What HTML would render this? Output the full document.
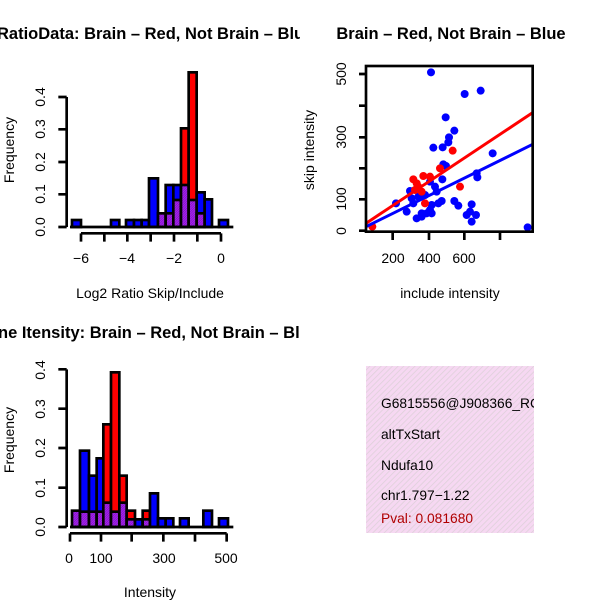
<!DOCTYPE html>
<html><head><meta charset="utf-8"><style>
html,body{margin:0;padding:0;background:#fff;}
svg{display:block;font-family:"Liberation Sans",sans-serif;}
</style></head><body>
<svg width="600" height="600" viewBox="0 0 600 600" xmlns="http://www.w3.org/2000/svg">
<defs>
<clipPath id="c1"><rect x="0" y="0" width="300" height="300"/></clipPath>
<clipPath id="c3"><rect x="0" y="300" width="300" height="300"/></clipPath>
<clipPath id="c4"><rect x="366" y="366" width="168" height="168"/></clipPath>
<pattern id="hatch" width="5" height="5" patternUnits="userSpaceOnUse" patternTransform="rotate(45)">
<rect width="5" height="5" fill="#a020f0"/><line x1="0" y1="0" x2="0" y2="5" stroke="#70108a" stroke-width="2"/>
</pattern>
<pattern id="pink" width="4" height="4" patternUnits="userSpaceOnUse" patternTransform="rotate(45)">
<rect width="4" height="4" fill="#f6d8f2"/><line x1="0" y1="0" x2="0" y2="4" stroke="#ddd0d8" stroke-width="1.5"/>
</pattern>
</defs>

<!-- Titles -->
<g font-weight="bold" font-size="16.5">
<text x="-3" y="39" clip-path="url(#c1)">RatioData: Brain – Red, Not Brain – Blue</text>
<text x="451" y="39" text-anchor="middle">Brain – Red, Not Brain – Blue</text>
<text x="-24" y="338" clip-path="url(#c3)">Gene Itensity: Brain – Red, Not Brain – Blue</text>
</g>

<!-- Plot 1 -->
<g transform="translate(0,60) scale(0.33333)" stroke="#000" stroke-width="8">
<rect x="216" y="480" width="27" height="21" fill="#0000ff"/>
<rect x="333" y="480" width="25" height="21" fill="#0000ff"/>
<rect x="378" y="480" width="24" height="21" fill="#0000ff"/>
<rect x="402" y="480" width="23" height="21" fill="#0000ff"/>
<rect x="425" y="480" width="22" height="21" fill="#0000ff"/>
<rect x="447" y="355" width="27" height="146" fill="#0000ff"/>
<rect x="474" y="460" width="23" height="41" fill="url(#hatch)"/>
<rect x="497" y="375" width="23" height="126" fill="#0000ff"/>
<rect x="497" y="460" width="23" height="41" fill="url(#hatch)"/>
<rect x="520" y="375" width="23" height="126" fill="#0000ff"/>
<rect x="520" y="420" width="23" height="81" fill="url(#hatch)"/>
<rect x="543" y="205" width="23" height="296" fill="#ff0000"/>
<rect x="543" y="375" width="23" height="126" fill="url(#hatch)"/>
<rect x="566" y="37" width="24" height="464" fill="#ff0000"/>
<rect x="566" y="420" width="24" height="81" fill="url(#hatch)"/>
<rect x="590" y="397" width="24" height="104" fill="#0000ff"/>
<rect x="590" y="460" width="24" height="41" fill="url(#hatch)"/>
<rect x="614" y="418" width="22" height="83" fill="#0000ff"/>
<rect x="657" y="480" width="27" height="21" fill="#0000ff"/>
<line x1="210" y1="501" x2="700" y2="501"/>
<path d="M200 111 V501 M200 111 H175 M200 208 H175 M200 306 H175 M200 403 H175 M200 501 H175" fill="none"/>
<path d="M243 520 H663 M243 520 V545 M313 520 V545 M382 520 V545 M452 520 V545 M522 520 V545 M592 520 V545 M663 520 V545" fill="none"/>
</g>
<g font-size="14" text-anchor="middle">
<text transform="translate(45,227) rotate(-90)">0.0</text>
<text transform="translate(45,194) rotate(-90)">0.1</text>
<text transform="translate(45,162) rotate(-90)">0.2</text>
<text transform="translate(45,129) rotate(-90)">0.3</text>
<text transform="translate(45,97) rotate(-90)">0.4</text>
<text x="81" y="263">−6</text>
<text x="127" y="263">−4</text>
<text x="174" y="263">−2</text>
<text x="221" y="263">0</text>
<text x="150" y="298">Log2 Ratio Skip/Include</text>
<text transform="translate(14,150) rotate(-90)">Frequency</text>
</g>

<!-- Plot 3 -->
<g transform="translate(0,360) scale(0.33333)" stroke="#000" stroke-width="8">
<rect x="216" y="452" width="24" height="49" fill="url(#hatch)"/>
<rect x="240" y="272" width="27" height="229" fill="#0000ff"/>
<rect x="240" y="455" width="27" height="46" fill="url(#hatch)"/>
<rect x="267" y="347" width="23" height="154" fill="#0000ff"/>
<rect x="267" y="455" width="23" height="46" fill="url(#hatch)"/>
<rect x="290" y="295" width="20" height="206" fill="#0000ff"/>
<rect x="290" y="455" width="20" height="46" fill="url(#hatch)"/>
<rect x="310" y="193" width="23" height="308" fill="#ff0000"/>
<rect x="310" y="428" width="23" height="73" fill="url(#hatch)"/>
<rect x="333" y="37" width="25" height="464" fill="#ff0000"/>
<rect x="333" y="455" width="25" height="46" fill="url(#hatch)"/>
<rect x="358" y="347" width="22" height="154" fill="#ff0000"/>
<rect x="358" y="428" width="22" height="73" fill="url(#hatch)"/>
<rect x="380" y="452" width="25" height="49" fill="#ff0000"/>
<rect x="380" y="478" width="25" height="23" fill="url(#hatch)"/>
<rect x="405" y="478" width="23" height="23" fill="#0000ff"/>
<rect x="428" y="452" width="22" height="49" fill="#ff0000"/>
<rect x="428" y="478" width="22" height="23" fill="url(#hatch)"/>
<rect x="450" y="400" width="24" height="101" fill="#0000ff"/>
<rect x="474" y="475" width="23" height="26" fill="#0000ff"/>
<rect x="497" y="475" width="23" height="26" fill="#0000ff"/>
<rect x="540" y="475" width="26" height="26" fill="#0000ff"/>
<rect x="610" y="452" width="26" height="49" fill="#0000ff"/>
<rect x="657" y="475" width="27" height="26" fill="#0000ff"/>
<line x1="210" y1="501" x2="700" y2="501"/>
<path d="M200 28 V501 M200 28 H175 M200 146 H175 M200 264 H175 M200 383 H175 M200 501 H175" fill="none"/>
<path d="M210 520 H680 M210 520 V545 M303 520 V545 M395 520 V545 M490 520 V545 M585 520 V545 M680 520 V545" fill="none"/>
</g>
<g font-size="14" text-anchor="middle">
<text transform="translate(45,527) rotate(-90)">0.0</text>
<text transform="translate(45,488) rotate(-90)">0.1</text>
<text transform="translate(45,448) rotate(-90)">0.2</text>
<text transform="translate(45,409) rotate(-90)">0.3</text>
<text transform="translate(45,370) rotate(-90)">0.4</text>
<text x="69" y="563">0</text>
<text x="101" y="563">100</text>
<text x="164" y="563">300</text>
<text x="226" y="563">500</text>
<text x="150" y="597">Intensity</text>
<text transform="translate(14,440) rotate(-90)">Frequency</text>
</g>

<!-- Plot 2 scatter -->
<g transform="translate(360,60) scale(0.33333)">
<g fill="#0000ff">
<circle cx="213" cy="37" r="12"/><circle cx="314" cy="102" r="12"/><circle cx="362" cy="92" r="12"/>
<circle cx="257" cy="172" r="12"/><circle cx="283" cy="212" r="12"/><circle cx="267" cy="232" r="12"/>
<circle cx="265" cy="247" r="12"/><circle cx="248" cy="262" r="12"/><circle cx="220" cy="263" r="12"/>
<circle cx="398" cy="280" r="12"/><circle cx="250" cy="313" r="12"/><circle cx="258" cy="318" r="12"/>
<circle cx="350" cy="340" r="12"/><circle cx="352" cy="352" r="12"/><circle cx="247" cy="358" r="12"/>
<circle cx="210" cy="365" r="12"/><circle cx="225" cy="380" r="12"/><circle cx="230" cy="395" r="12"/>
<circle cx="150" cy="393" r="12"/><circle cx="108" cy="430" r="12"/><circle cx="283" cy="423" r="12"/>
<circle cx="295" cy="437" r="12"/><circle cx="335" cy="433" r="12"/><circle cx="330" cy="455" r="12"/>
<circle cx="320" cy="465" r="12"/><circle cx="348" cy="465" r="12"/><circle cx="335" cy="485" r="12"/>
<circle cx="503" cy="502" r="12"/><circle cx="245" cy="423" r="12"/><circle cx="235" cy="430" r="12"/>
<circle cx="215" cy="435" r="12"/><circle cx="185" cy="460" r="12"/><circle cx="170" cy="475" r="12"/>
<circle cx="200" cy="460" r="12"/><circle cx="215" cy="460" r="12"/><circle cx="140" cy="455" r="12"/>
<circle cx="160" cy="430" r="12"/><circle cx="175" cy="410" r="12"/><circle cx="195" cy="405" r="12"/>
<circle cx="155" cy="415" r="12"/><circle cx="185" cy="470" r="12"/><circle cx="210" cy="450" r="12"/>
</g>
<g fill="#ff0000">
<circle cx="37" cy="500" r="12"/><circle cx="278" cy="272" r="12"/><circle cx="300" cy="380" r="12"/>
<circle cx="240" cy="325" r="12"/><circle cx="160" cy="358" r="12"/><circle cx="190" cy="348" r="12"/>
<circle cx="210" cy="350" r="12"/><circle cx="175" cy="380" r="12"/><circle cx="185" cy="395" r="12"/>
<circle cx="195" cy="430" r="12"/><circle cx="170" cy="370" r="12"/><circle cx="165" cy="390" r="12"/>
</g>
<line x1="18" y1="490" x2="518" y2="158" stroke="#ff0000" stroke-width="9"/>
<line x1="18" y1="500" x2="518" y2="253" stroke="#0000ff" stroke-width="9"/>
<rect x="18" y="18" width="500" height="497" fill="none" stroke="#000" stroke-width="8"/>
<path d="M18 42 H-3 M18 137 H-3 M18 232 H-3 M18 325 H-3 M18 418 H-3 M18 512 H-3" stroke="#000" stroke-width="8"/>
<path d="M98 515 V540 M207 515 V540 M313 515 V540 M420 515 V540" stroke="#000" stroke-width="8"/>
</g>
<g font-size="14" text-anchor="middle">
<text transform="translate(346,231) rotate(-90)">0</text>
<text transform="translate(346,199) rotate(-90)">100</text>
<text transform="translate(346,137) rotate(-90)">300</text>
<text transform="translate(346,74) rotate(-90)">500</text>
<text x="393" y="263">200</text>
<text x="429" y="263">400</text>
<text x="464" y="263">600</text>
<text x="450" y="298">include intensity</text>
<text transform="translate(314,150) rotate(-90)">skip intensity</text>
</g>

<!-- Info box -->
<rect x="366" y="366" width="168" height="167" fill="url(#pink)"/>
<g font-size="13.8" clip-path="url(#c4)">
<text x="381" y="408">G6815556@J908366_RC</text>
<text x="381" y="439">altTxStart</text>
<text x="381" y="470">Ndufa10</text>
<text x="381" y="500">chr1.797−1.22</text>
<text x="381" y="523" fill="#b00000">Pval: 0.081680</text>
</g>
</svg>
</body></html>
